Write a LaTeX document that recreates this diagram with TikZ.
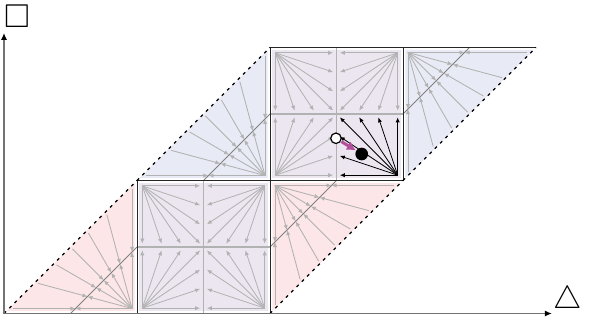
\documentclass[tikz,border=0pt]{standalone}
\usepackage{amssymb}
\usetikzlibrary{arrows.meta}
\definecolor{pinkf}{RGB}{252,230,232}
\definecolor{bluef}{RGB}{232,234,245}
\definecolor{lavf}{RGB}{236,230,240}
\definecolor{magc}{RGB}{178,80,155}
\tikzset{
 garrow/.style={draw=black!30, line width=0.85pt, -{Latex[length=5pt,width=4.2pt]}},
 barrow/.style={draw=black, line width=0.85pt, -{Latex[length=5pt,width=4.2pt]}},
 midl/.style={draw=black!50, line width=0.9pt},
 crossl/.style={draw=black!30, line width=1.3pt},
 blockedge/.style={draw=black!85, line width=1pt},
 hypdash/.style={draw=black, line width=1.3pt, dash pattern=on 3pt off 4.5pt},
 axisline/.style={draw=black!55, line width=1.5pt, -{Latex[black,length=7pt,width=6pt]}},
 magarrow/.style={draw=magc, line width=3pt, -{Latex[length=9pt,width=10pt]}, shorten <=0.5pt, shorten >=0.3pt},
}
\def\sqE{0.08}
\def\sqF{0.05}
\def\trE{0.075}
\def\trG{0.06}
\def\fillD{0.035}
% sub-square fan: origin x, origin y, u sign, w sign, style
\newcommand\subfan[5]{%
 \begin{scope}[shift={(#1,#2)}, x={(#3,0)}, y={(0,#4)}]
  \foreach \k in {0,1,2,3}{%
    \pgfmathsetmacro\qq{\sqE+(1-\sqF-\sqE)*\k/3}
    \draw[#5] (\sqE,\sqE) -- (1-\sqF,\qq);}
  \foreach \k in {0,1,2}{%
    \pgfmathsetmacro\qq{\sqE+(1-\sqF-\sqE)*\k/3}
    \draw[#5] (\sqE,\sqE) -- (\qq,1-\sqF);}
 \end{scope}}
% triangle fill: corner x, corner y, u sign, w sign, colour
\newcommand\trifill[5]{%
 \begin{scope}[shift={(#1,#2)}, x={(#3,0)}, y={(0,#4)}]
  \fill[#5] (\fillD,\fillD) -- (2-\fillD,\fillD) -- (\fillD,2-\fillD) -- cycle;
 \end{scope}}
% triangle fan: corner x, corner y, u sign, w sign
\newcommand\trifan[4]{%
 \begin{scope}[shift={(#1,#2)}, x={(#3,0)}, y={(0,#4)}]
  \foreach \th in {0,15,...,90}{%
    \pgfmathsetmacro\cth{cos(\th)}
    \pgfmathsetmacro\sth{sin(\th)}
    \pgfmathsetmacro\tmid{(1-2*\trE)/(\cth+\sth)}
    \pgfmathsetmacro\tfar{(2-2*\trE-\trG)/(\cth+\sth)}
    \draw[garrow] (\trE,\trE) -- ({\trE+\tmid*\cth},{\trE+\tmid*\sth});
    \draw[garrow] ({\trE+\tfar*\cth},{\trE+\tfar*\sth}) -- ({\trE+\tmid*\cth},{\trE+\tmid*\sth});}
  \draw[midl] (1,0) -- (0,1);
 \end{scope}}
\begin{document}
\begin{tikzpicture}[x=66.5pt,y=66.5pt]
\useasboundingbox (-4pt,-5.5pt) rectangle (605pt,313.5pt);
% fills
\trifill{2}{0}{-1}{1}{pinkf}
\trifill{4}{2}{1}{-1}{pinkf}
\trifill{4}{2}{-1}{1}{bluef}
\trifill{6}{4}{1}{-1}{bluef}
\fill[lavf] (2+\fillD,\fillD) rectangle (4-\fillD,2-\fillD);
\fill[lavf] (4+\fillD,2+\fillD) rectangle (6-\fillD,4-\fillD);
% cross lines
\draw[crossl] (2,1) -- (4,1);
\draw[crossl] (3,0) -- (3,2);
\draw[crossl] (4,3) -- (6,3);
\draw[crossl] (5,2) -- (5,4);
% square fans
\subfan{2}{0}{1}{1}{garrow}
\subfan{4}{0}{-1}{1}{garrow}
\subfan{2}{2}{1}{-1}{garrow}
\subfan{4}{2}{-1}{-1}{garrow}
\subfan{4}{2}{1}{1}{garrow}
\subfan{4}{4}{1}{-1}{garrow}
\subfan{6}{4}{-1}{-1}{garrow}
% triangle fans
\trifan{2}{0}{-1}{1}
\trifan{4}{2}{1}{-1}
\trifan{4}{2}{-1}{1}
\trifan{6}{4}{1}{-1}
% block edges
\draw[blockedge] (2,0) -- (2,2) -- (6,2) -- (6,4);
\draw[blockedge] (4,0) -- (4,4) -- (8,4);
% dashed hypotenuses
\draw[hypdash] (0,0) -- (2,2);
\draw[hypdash] (4,0) -- (6,2);
\draw[hypdash] (2,2) -- (4,4);
\draw[hypdash] (6,2) -- (8,4);
% highlighted sub-square
\subfan{6}{2}{-1}{1}{barrow}
\node[circle, draw=black, fill=white, line width=1.2pt, minimum size=10.5pt, inner sep=0pt] (wc) at (4.992,2.635) {};
\node[circle, fill=black, minimum size=12.7pt, inner sep=0pt] (bd) at (5.379,2.398) {};
\draw[magarrow] (wc) -- (bd);
% axes
\coordinate (O) at (0,0);
\coordinate (ytip) at (0,4.22);
\coordinate (xtip) at (8.24,0);
\draw[axisline] (O) -- (ytip);
\draw[axisline] (O) -- (xtip);
\node[scale=3.3, inner sep=0pt] (sqlabel) at (0.203,4.47) {$\square$};
\node[scale=3.2, inner sep=0pt] (trilabel) at (8.481,0.19) {$\triangle$};
\end{tikzpicture}
\end{document}
